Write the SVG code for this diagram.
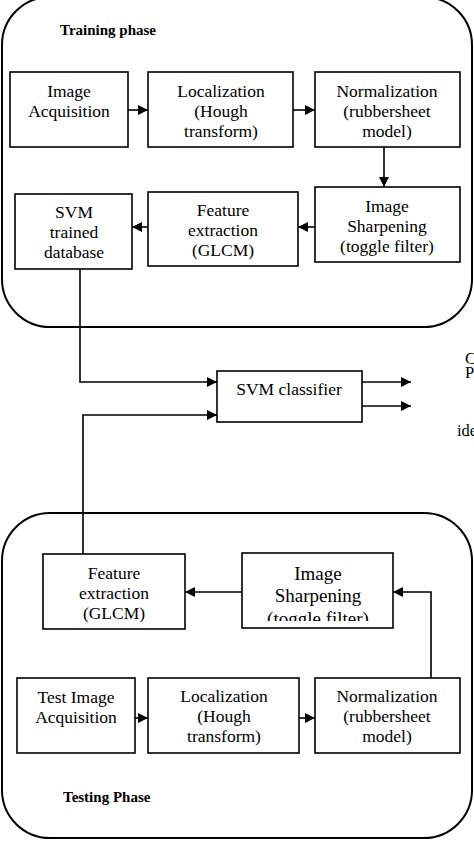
<svg xmlns="http://www.w3.org/2000/svg" width="474" height="841" viewBox="0 0 474 841">
<style>
.phase{fill:none;stroke:#000;stroke-width:2}
.box{fill:#fff;stroke:#000;stroke-width:1.6}
.t{font-family:"Liberation Serif","Times New Roman",serif;font-size:17.5px;fill:#000;text-anchor:middle}
.big{font-size:19px}
.lbl{font-family:"Liberation Serif","Times New Roman",serif;font-size:15px;font-weight:bold;fill:#000}
.side{font-family:"Liberation Serif","Times New Roman",serif;font-size:16.5px;fill:#000}
.c{fill:none;stroke:#000;stroke-width:1.6}
</style>
<defs>
<marker id="ah" viewBox="0 0 10 10" refX="10" refY="5" markerWidth="11" markerHeight="10" markerUnits="userSpaceOnUse" orient="auto">
<path d="M0,0 L10,5 L0,10 z" fill="#000"/>
</marker>
<clipPath id="clipIS"><rect x="242" y="553" width="151" height="68"/></clipPath>
</defs>
<rect width="474" height="841" fill="#fff"/>
<g id="training-phase">
<rect class="phase" x="2" y="-3" width="470" height="330" rx="48" ry="48"/>
<text class="lbl" x="60" y="35">Training phase</text>
</g>
<g id="testing-phase">
<rect class="phase" x="2" y="513" width="470" height="325" rx="48" ry="48"/>
<text class="lbl" x="63" y="802">Testing Phase</text>
</g>
<g id="connectors">
<line class="c" x1="128" y1="110" x2="148" y2="110" marker-end="url(#ah)"/>
<line class="c" x1="293" y1="110" x2="315" y2="110" marker-end="url(#ah)"/>
<line class="c" x1="384" y1="147" x2="384" y2="187" marker-end="url(#ah)"/>
<line class="c" x1="315" y1="227" x2="298" y2="227" marker-end="url(#ah)"/>
<line class="c" x1="148" y1="227" x2="132" y2="227" marker-end="url(#ah)"/>
<polyline class="c" points="80,269 80,382 217,382" marker-end="url(#ah)"/>
<polyline class="c" points="83,554 83,415 217,415" marker-end="url(#ah)"/>
<line class="c" x1="362" y1="382" x2="411" y2="382" marker-end="url(#ah)"/>
<line class="c" x1="362" y1="406" x2="411" y2="406" marker-end="url(#ah)"/>
<line class="c" x1="242" y1="592" x2="185" y2="592" marker-end="url(#ah)"/>
<polyline class="c" points="431,678 431,592 393,592" marker-end="url(#ah)"/>
<line class="c" x1="135" y1="718" x2="148" y2="718" marker-end="url(#ah)"/>
<line class="c" x1="299" y1="718" x2="315" y2="718" marker-end="url(#ah)"/>
</g>
<g id="image-acquisition">
<rect class="box" x="10" y="72" width="118" height="75"/>
<text class="t" x="69" y="97">Image</text>
<text class="t" x="69" y="117">Acquisition</text>
</g>
<g id="localization-train">
<rect class="box" x="148" y="72" width="145" height="75"/>
<text class="t" x="221" y="97">Localization</text>
<text class="t" x="221" y="117">(Hough</text>
<text class="t" x="221" y="137">transform)</text>
</g>
<g id="normalization-train">
<rect class="box" x="315" y="72" width="145" height="75"/>
<text class="t" x="387" y="97">Normalization</text>
<text class="t" x="387" y="117">(rubbersheet</text>
<text class="t" x="387" y="137">model)</text>
</g>
<g id="sharpening-train">
<rect class="box" x="315" y="187" width="145" height="75"/>
<text class="t" x="387" y="212">Image</text>
<text class="t" x="387" y="232">Sharpening</text>
<text class="t" x="387" y="252">(toggle filter)</text>
</g>
<g id="feature-train">
<rect class="box" x="148" y="192" width="150" height="74"/>
<text class="t" x="223" y="216">Feature</text>
<text class="t" x="223" y="236">extraction</text>
<text class="t" x="223" y="256">(GLCM)</text>
</g>
<g id="svm-database">
<rect class="box" x="15" y="194" width="117" height="75"/>
<text class="t" x="74" y="218">SVM</text>
<text class="t" x="74" y="238">trained</text>
<text class="t" x="74" y="258">database</text>
</g>
<g id="svm-classifier">
<rect class="box" x="217" y="371" width="145" height="51"/>
<text class="t" x="289" y="395">SVM classifier</text>
</g>
<g id="side-labels">
<text class="side" x="465" y="364">C</text>
<text class="side" x="465" y="378">P</text>
<text class="side" x="457" y="436">ide</text>
</g>
<g id="feature-test">
<rect class="box" x="43" y="554" width="142" height="75"/>
<text class="t" x="114" y="579">Feature</text>
<text class="t" x="114" y="599">extraction</text>
<text class="t" x="114" y="619">(GLCM)</text>
</g>
<g id="sharpening-test">
<rect class="box" x="242" y="553" width="151" height="75"/>
<g clip-path="url(#clipIS)">
<text class="t big" x="318" y="580">Image</text>
<text class="t big" x="318" y="602">Sharpening</text>
<text class="t big" x="318" y="625">(toggle filter)</text>
</g>
</g>
<g id="test-acquisition">
<rect class="box" x="17" y="678" width="118" height="75"/>
<text class="t" x="76" y="703">Test Image</text>
<text class="t" x="76" y="723">Acquisition</text>
</g>
<g id="localization-test">
<rect class="box" x="148" y="678" width="151" height="75"/>
<text class="t" x="224" y="702">Localization</text>
<text class="t" x="224" y="722">(Hough</text>
<text class="t" x="224" y="742">transform)</text>
</g>
<g id="normalization-test">
<rect class="box" x="315" y="678" width="145" height="75"/>
<text class="t" x="387" y="702">Normalization</text>
<text class="t" x="387" y="722">(rubbersheet</text>
<text class="t" x="387" y="742">model)</text>
</g>
</svg>
